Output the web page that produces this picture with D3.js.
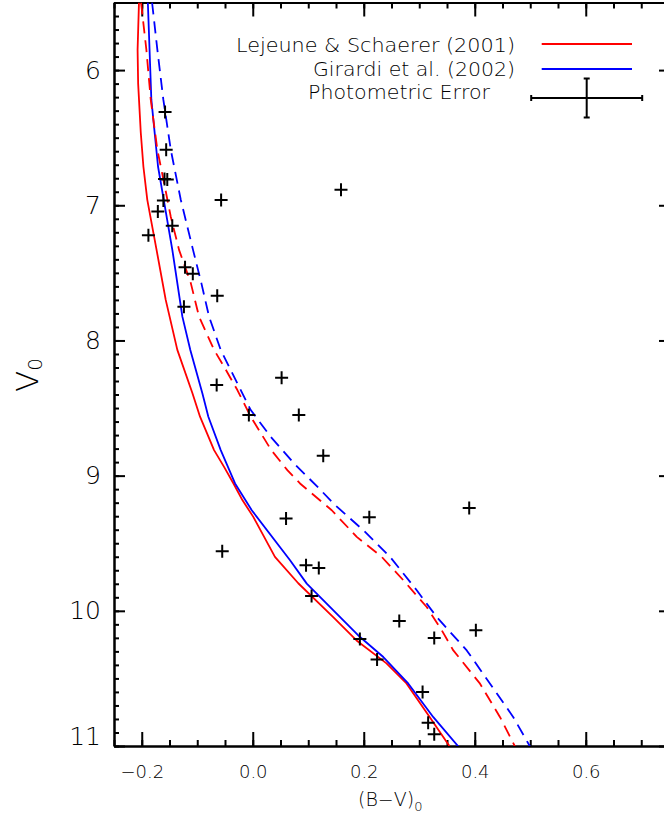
<!DOCTYPE html>
<html>
<head>
<meta charset="utf-8">
<script src="https://cdn.jsdelivr.net/npm/d3@7"></script>
<style>
  body { margin: 0; background: #fff; }
  svg { display: block; }
  text { font-family: "DejaVu Sans", "Liberation Sans", sans-serif; font-weight: 200; fill: #000; }
</style>
</head>
<body>
<div id="chart"></div>
<script>
// observed stars: (B-V)0 and V0
const starBV = [-0.158, -0.156, -0.159, -0.154, -0.161, -0.171, -0.145, -0.188, -0.057, 0.159,
  -0.122, -0.108, -0.064, -0.124, 0.052, -0.065, -0.007, 0.083, 0.127, 0.060,
  0.210, -0.055, 0.096, 0.119, 0.106, 0.390, 0.264, 0.327, 0.193, 0.224,
  0.402, 0.306, 0.316, 0.327];
const starV = [6.31, 6.59, 6.806, 6.81, 6.964, 7.046, 7.152, 7.221, 6.961, 6.885,
  7.458, 7.507, 7.670, 7.75, 8.276, 8.33, 8.552, 8.552, 8.853, 9.317,
  9.307, 9.559, 9.663, 9.683, 9.890, 9.239, 10.076, 10.201, 10.209, 10.361,
  10.144, 10.601, 10.828, 10.913];

// Lejeune & Schaerer (2001) isochrone, solid and dashed (binary) sequences
const lsBV = [-0.205, -0.2075, -0.2065, -0.2018, -0.197, -0.190, -0.179, -0.1733, -0.1568, -0.1359,
  -0.1088, -0.095, -0.0697, -0.0517, -0.035, -0.0187, 0.001, 0.040, 0.082, 0.145,
  0.187, 0.241, 0.277, 0.319, 0.355];
const lsV = [5.5, 5.85, 6.1, 6.46, 6.715, 6.96, 7.204, 7.33, 7.70, 8.07,
  8.389, 8.564, 8.811, 8.935, 9.056, 9.181, 9.305, 9.601, 9.796, 10.046,
  10.219, 10.389, 10.537, 10.787, 11.004];
const lsBinBV = [-0.2013, -0.1917, -0.1838, -0.1719, -0.1598, -0.1477, -0.1328, -0.1117, -0.0968, -0.0697,
  -0.0517, -0.0277, -0.0036, 0.0333, 0.0623, 0.0852, 0.1423, 0.1874, 0.2324, 0.2714,
  0.3135, 0.3405, 0.3614, 0.4095, 0.4456, 0.4726];
const lsBinV = [5.5, 5.848, 6.219, 6.589, 6.833, 7.085, 7.33, 7.574, 7.824, 8.07,
  8.194, 8.367, 8.564, 8.811, 8.959, 9.058, 9.256, 9.453, 9.601, 9.774,
  9.972, 10.144, 10.293, 10.539, 10.787, 11.004];

// Girardi et al. (2002) isochrone
const giBV = [-0.189, -0.1827, -0.1706, -0.1449, -0.1268, -0.1125, -0.0908, -0.080, -0.0577, -0.0319,
  -0.0018, 0.0672, 0.0973, 0.1933, 0.2353, 0.2804, 0.3254, 0.3705];
const giV = [5.5, 6.219, 6.715, 7.33, 7.824, 8.07, 8.391, 8.564, 8.811, 9.058,
  9.256, 9.626, 9.799, 10.194, 10.342, 10.539, 10.787, 11.004];
const giBinBV = [-0.1814, -0.1719, -0.1611, -0.1477, -0.1297, -0.1076, -0.0926, -0.0787, -0.0577, -0.0277,
  -0.0036, 0.0324, 0.0744, 0.1225, 0.1452, 0.1993, 0.2474, 0.2955, 0.3315, 0.3856,
  0.4276, 0.4695, 0.4996];
const giBinV = [5.5, 5.848, 6.219, 6.589, 6.959, 7.33, 7.576, 7.824, 8.07, 8.317,
  8.515, 8.713, 8.91, 9.107, 9.206, 9.404, 9.601, 9.848, 10.046, 10.293,
  10.539, 10.787, 11.004];

const legendLabels = ['Lejeune & Schaerer (2001)', 'Girardi et al. (2002)', 'Photometric Error'];
const errBV = 0.1;   // typical error in (B-V)0
const errV = 0.145;  // typical error in V0

const xMajor = [-0.2, 0.0, 0.2, 0.4, 0.6];
const yMajor = [6, 7, 8, 9, 10, 11];

const W = 664, H = 815;
const margin = {left: 114, top: 2.5, right: -5, bottom: 69};
const width = W - margin.left - margin.right;
const height = H - margin.top - margin.bottom;

const svg = d3.select('#chart').append('svg')
  .attr('width', W)
  .attr('height', H);

const g = svg.append('g')
  .attr('transform', 'translate(' + margin.left + ',' + margin.top + ')');

const x = d3.scaleLinear().domain([-0.25, 0.75]).range([0, width]);
const y = d3.scaleLinear().domain([5.5, 11]).range([0, height]);

const xMinor = d3.range(-0.25, 0.751, 0.05).map(v => +v.toFixed(2));
const yMinor = d3.range(5.5, 11.001, 0.1).map(v => +v.toFixed(1));

function styleAxis(sel) {
  sel.select('.domain').attr('stroke-width', 2).attr('stroke', '#000');
  sel.selectAll('.tick line').attr('stroke-width', 2).attr('stroke', '#000');
}

// minor ticks (inward)
g.append('g').call(d3.axisBottom(x).tickValues(xMinor).tickSize(-6).tickSizeOuter(0).tickFormat(''))
  .attr('transform', 'translate(0,' + height + ')').call(styleAxis);
g.append('g').call(d3.axisTop(x).tickValues(xMinor).tickSize(-6).tickSizeOuter(0).tickFormat(''))
  .call(styleAxis);
g.append('g').call(d3.axisLeft(y).tickValues(yMinor).tickSize(-5).tickSizeOuter(0).tickFormat(''))
  .call(styleAxis);
g.append('g').call(d3.axisRight(y).tickValues(yMinor).tickSize(-5).tickSizeOuter(0).tickFormat(''))
  .attr('transform', 'translate(' + width + ',0)').call(styleAxis);

// major ticks
const xAxis = g.append('g')
  .attr('transform', 'translate(0,' + height + ')')
  .call(d3.axisBottom(x).tickValues(xMajor).tickSize(-14).tickSizeOuter(0)
    .tickPadding(19).tickFormat(d3.format('.1f')))
  .call(styleAxis);
xAxis.selectAll('text').attr('font-size', 18).attr('font-family', null);

g.append('g')
  .call(d3.axisTop(x).tickValues(xMajor).tickSize(-14).tickSizeOuter(0).tickFormat(''))
  .call(styleAxis);

const yAxis = g.append('g')
  .call(d3.axisLeft(y).tickValues(yMajor).tickSize(-11).tickSizeOuter(0)
    .tickPadding(13).tickFormat(d3.format('d')))
  .call(styleAxis);
yAxis.selectAll('text').attr('font-size', 25).attr('font-family', null);
// last label sits a bit above the bottom axis
yAxis.selectAll('.tick').filter(d => d === 11).select('text').attr('dy', '-0.05em');

g.append('g')
  .attr('transform', 'translate(' + width + ',0)')
  .call(d3.axisRight(y).tickValues(yMajor).tickSize(-10).tickSizeOuter(0).tickFormat(''))
  .call(styleAxis);

// axis titles
const xTitle = svg.append('text')
  .attr('x', 358)
  .attr('y', 806)
  .attr('font-size', 19);
xTitle.append('tspan').text('(B\u2212V)');
xTitle.append('tspan').attr('font-size', 13).attr('dy', 5).text('0');

const yTitle = svg.append('text')
  .attr('transform', 'translate(38,392) rotate(-90)')
  .attr('font-size', 31);
yTitle.append('tspan').text('V');
yTitle.append('tspan').attr('font-size', 20).attr('dy', 4).text('0');

// isochrones
const line = d3.line().x(d => x(d[0])).y(d => y(d[1]));
const curves = [
  {bv: lsBV, v: lsV, color: '#ff0000', dash: null},
  {bv: giBV, v: giV, color: '#0000ff', dash: null},
  {bv: lsBinBV, v: lsBinV, color: '#ff0000', dash: '12,7'},
  {bv: giBinBV, v: giBinV, color: '#0000ff', dash: '12,7'}
];
svg.append('clipPath').attr('id', 'clip')
  .append('rect').attr('width', width).attr('height', height);
const plot = g.append('g').attr('clip-path', 'url(#clip)');
curves.forEach(function (c) {
  plot.append('path')
    .datum(d3.zip(c.bv, c.v))
    .attr('d', line)
    .attr('fill', 'none')
    .attr('stroke', c.color)
    .attr('stroke-width', 1.8)
    .attr('stroke-linejoin', 'round')
    .attr('stroke-dasharray', c.dash);
});

// stars as plus symbols
const arm = 6.5;
plot.selectAll('.star')
  .data(d3.zip(starBV, starV))
  .enter()
  .append('path')
  .attr('class', 'star')
  .attr('d', d => {
    const px = x(d[0]), py = y(d[1]);
    return 'M' + (px - arm) + ',' + py + 'H' + (px + arm) + 'M' + px + ',' + (py - arm) + 'V' + (py + arm);
  })
  .attr('stroke', '#000')
  .attr('stroke-width', 2);

// legend
const legX = 515;
const legLen = [279, 202, 182];
const legTextX = [legX, legX, 490];
const legY = [52, 76, 99];
legendLabels.forEach(function (t, i) {
  svg.append('text')
    .attr('x', legTextX[i])
    .attr('y', legY[i])
    .attr('text-anchor', 'end')
    .attr('font-size', 19)
    .attr('textLength', legLen[i])
    .attr('lengthAdjust', 'spacingAndGlyphs')
    .text(t);
});
[['#ff0000', 44], ['#0000ff', 69]].forEach(function (s) {
  svg.append('line')
    .attr('x1', 541.7).attr('x2', 632)
    .attr('y1', s[1]).attr('y2', s[1])
    .attr('stroke', s[0]).attr('stroke-width', 1.8);
});
// error bar sized in data units
const ex = 586.7, ey = 98;
const hx = x(errBV) - x(0), hy = y(errV) - y(0);
const cap = 3;
svg.append('path')
  .attr('d', 'M' + (ex - hx) + ',' + ey + 'H' + (ex + hx) +
    'M' + (ex - hx) + ',' + (ey - cap) + 'V' + (ey + cap) +
    'M' + (ex + hx) + ',' + (ey - cap) + 'V' + (ey + cap) +
    'M' + ex + ',' + (ey - hy) + 'V' + (ey + hy) +
    'M' + (ex - cap) + ',' + (ey - hy) + 'H' + (ex + cap) +
    'M' + (ex - cap) + ',' + (ey + hy) + 'H' + (ex + cap))
  .attr('fill', 'none')
  .attr('stroke', '#000')
  .attr('stroke-width', 2);
</script>
</body>
</html>
